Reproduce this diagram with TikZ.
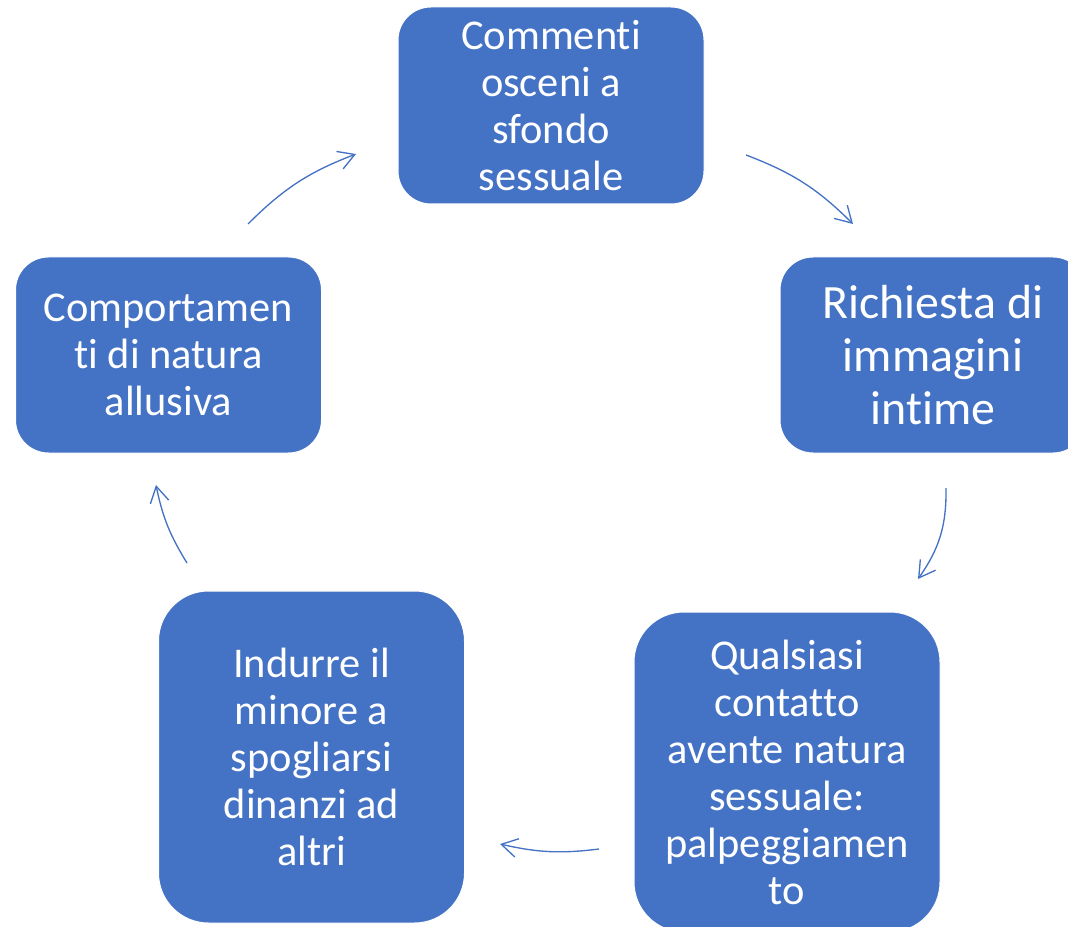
\documentclass[tikz,border=0pt]{standalone}
\usepackage{fontspec}
\setmainfont{Carlito}[Ligatures=NoCommon]
\usetikzlibrary{arrows.meta}
\definecolor{officeblue}{HTML}{4472C4}

\begin{document}
\begin{tikzpicture}[x=0.75pt, y=0.75pt,
        stage/.style={rectangle, rounded corners=24.75pt, fill=officeblue, draw=white, line width=0.75pt,
            text=white, align=center, inner sep=0pt, minimum width=229.5pt, minimum height=147pt,
            font={\fontsize{31.8pt}{35.25pt}\selectfont}},
        flow/.style={draw=officeblue, line width=1pt, -{Straight Barb[length=12pt, width=14pt]}}]

        \useasboundingbox (0,0) rectangle (1068,-927);

        \node (top) at (551, -105.5) [stage, minimum height=147.75pt] {Commenti\\osceni a\\sfondo\\sessuale};
        \node (right) at (933, -355) [stage, font={\fontsize{35.9pt}{39.75pt}\selectfont}] {Richiesta di\\immagini\\intime};
        \node (lowright) at (787, -772) [stage, minimum height=240pt, rounded corners=37.5pt] {Qualsiasi\\contatto\\avente natura\\sessuale:\\palpeggiamen\\to};
        \node (lowleft) at (311.5, -757) [stage, minimum height=249pt, rounded corners=37.5pt] {Indurre il\\minore a\\spogliarsi\\dinanzi ad\\altri};
        \node (left) at (168.5, -355) [stage] {Comportamen\\ti di natura\\allusiva};

        \coordinate (a1s) at (248, -224);
        \coordinate (a1e) at (356, -154);
        \coordinate (a2s) at (746, -155);
        \coordinate (a2e) at (853, -224);
        \coordinate (a3s) at (946, -488);
        \coordinate (a3e) at (918, -579);
        \coordinate (a4s) at (599, -849);
        \coordinate (a4e) at (500, -844);
        \coordinate (a5s) at (187, -563);
        \coordinate (a5e) at (156, -485);

        \draw [flow] (a1s) to [bend left=12] (a1e);
        \draw [flow] (a2s) to [bend left=12] (a2e);
        \draw [flow] (a3s) to [bend left=18] (a3e);
        \draw [flow] (a4s) to [bend left=10] (a4e);
        \draw [flow] (a5s) to [bend left=10] (a5e);
    \end{tikzpicture}
\end{document}
